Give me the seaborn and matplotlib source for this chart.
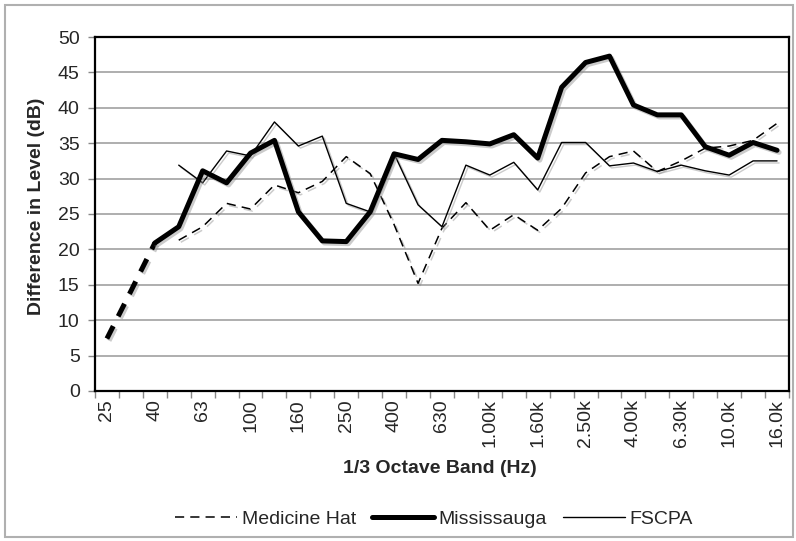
import matplotlib
matplotlib.use("Agg")

import numpy as np
import pandas as pd
import matplotlib.pyplot as plt
import matplotlib.patheffects as pe
from matplotlib.lines import Line2D
from matplotlib.patches import Rectangle
import seaborn as sns

# Bandas de 1/3 de oitava
bandas = ["25", "31.5", "40", "50", "63", "80", "100", "125", "160", "200",
          "250", "315", "400", "500", "630", "800", "1.00k", "1.25k", "1.60k",
          "2.00k", "2.50k", "3.15k", "4.00k", "5.00k", "6.30k", "8.00k",
          "10.0k", "12.5k", "16.0k"]

nan = np.nan
medicine_hat = [nan, nan, nan, 21.3, 23.2, 26.5, 25.7, 29.1, 28.0, 29.6,
                33.1, 30.7, 23.5, 15.2, 23.0, 26.6, 22.7, 24.9, 22.7, 25.8,
                30.8, 33.1, 33.9, 31.0, 32.5, 34.3, 34.6, 35.4, 37.8]
mississauga = [7.4, 14.1, 20.9, 23.2, 31.1, 29.4, 33.6, 35.4, 25.3, 21.2,
               21.1, 25.3, 33.5, 32.7, 35.4, 35.2, 34.9, 36.2, 32.9, 42.9,
               46.4, 47.3, 40.4, 39.0, 39.0, 34.5, 33.3, 35.1, 34.0]
fscpa = [nan, nan, nan, 31.9, 29.4, 33.9, 33.2, 38.0, 34.6, 36.0,
         26.5, 25.3, 33.5, 26.3, 23.2, 31.9, 30.5, 32.3, 28.4, 35.1,
         35.1, 31.8, 32.2, 31.0, 31.9, 31.1, 30.5, 32.5, 32.5]
n_tracejado = 3   # primeiras bandas de Mississauga desenhadas tracejadas

df = pd.DataFrame({
    "idx": np.arange(len(bandas)),
    "Medicine Hat": medicine_hat,
    "Mississauga": mississauga,
    "FSCPA": fscpa,
})

sns.set_theme(style="white")
plt.rcParams["font.family"] = ["Liberation Sans", "DejaVu Sans"]

fig = plt.figure(figsize=(7.96, 5.41), dpi=100)
ax = fig.add_axes([0.1193, 0.2773, 0.8719, 0.6543])

sombra = [pe.SimpleLineShadow(offset=(1.5, -1.5), shadow_color="0.55", alpha=0.45),
          pe.Normal()]

# Medicine Hat (tracejada fina)
sns.lineplot(data=df, x="idx", y="Medicine Hat", ax=ax, color="black",
             linewidth=1.1, path_effects=sombra)
ax.lines[-1].set_dashes((6, 4))

# FSCPA (fina contínua)
sns.lineplot(data=df, x="idx", y="FSCPA", ax=ax, color="black",
             linewidth=1.0, path_effects=sombra)

# Mississauga (grossa) — trecho inicial tracejado
ini = df.iloc[:n_tracejado]
sns.lineplot(data=ini, x="idx", y="Mississauga", ax=ax, color="black",
             linewidth=3.6, path_effects=sombra)
ax.lines[-1].set_dashes((2.8, 2.2))
ax.lines[-1].set_solid_capstyle("butt")
resto = df.iloc[n_tracejado - 1:]
sns.lineplot(data=resto, x="idx", y="Mississauga", ax=ax, color="black",
             linewidth=3.6, path_effects=sombra)

ax.set_xlim(-0.5, len(bandas) - 0.5)
ax.set_ylim(0, 50)
ax.set_yticks(np.arange(0, 51, 5))
ax.yaxis.grid(True, color="#a8a8a8", linewidth=1.3)
ax.set_axisbelow(True)

ax.set_xticks(np.arange(0, len(bandas), 2))
ax.set_xticklabels(bandas[::2], rotation=90, fontsize=14)
ax.set_xticks(np.arange(-0.5, len(bandas), 1), minor=True)
ax.tick_params(axis="x", which="major", length=0, pad=6)
ax.tick_params(axis="x", which="minor", length=5, width=1, color="#888888",
               direction="out", bottom=True)
ax.tick_params(axis="y", length=5, width=1, color="#888888", direction="out",
               left=True, labelsize=14, pad=6)

for s in ax.spines.values():
    s.set_color("black")
    s.set_linewidth(1.6)

ax.set_xlabel("1/3 Octave Band (Hz)", fontsize=14, fontweight="bold")
ax.xaxis.set_label_coords(0.497, -0.195)
ax.set_ylabel("Difference in Level (dB)", fontsize=14, fontweight="bold")
ax.yaxis.set_label_coords(-0.072, 0.523)

handles = [
    Line2D([], [], color="black", linewidth=1.1, dashes=(6, 4)),
    Line2D([], [], color="black", linewidth=3.6),
    Line2D([], [], color="black", linewidth=1.0),
]
fig.legend(handles, ["Medicine Hat", "Mississauga", "FSCPA"], loc="center",
           bbox_to_anchor=(0.545, 0.04), ncol=3, frameon=False, fontsize=14,
           handlelength=3.2, handletextpad=0.25, columnspacing=0.8)

# borda do gráfico
fig.add_artist(Rectangle((5 / 796, 4 / 541), 788 / 796, 532 / 541,
                         transform=fig.transFigure, fill=False,
                         edgecolor="#b0b0b0", linewidth=1.5))

fig.savefig("out.png", dpi=100)
plt.close(fig)
